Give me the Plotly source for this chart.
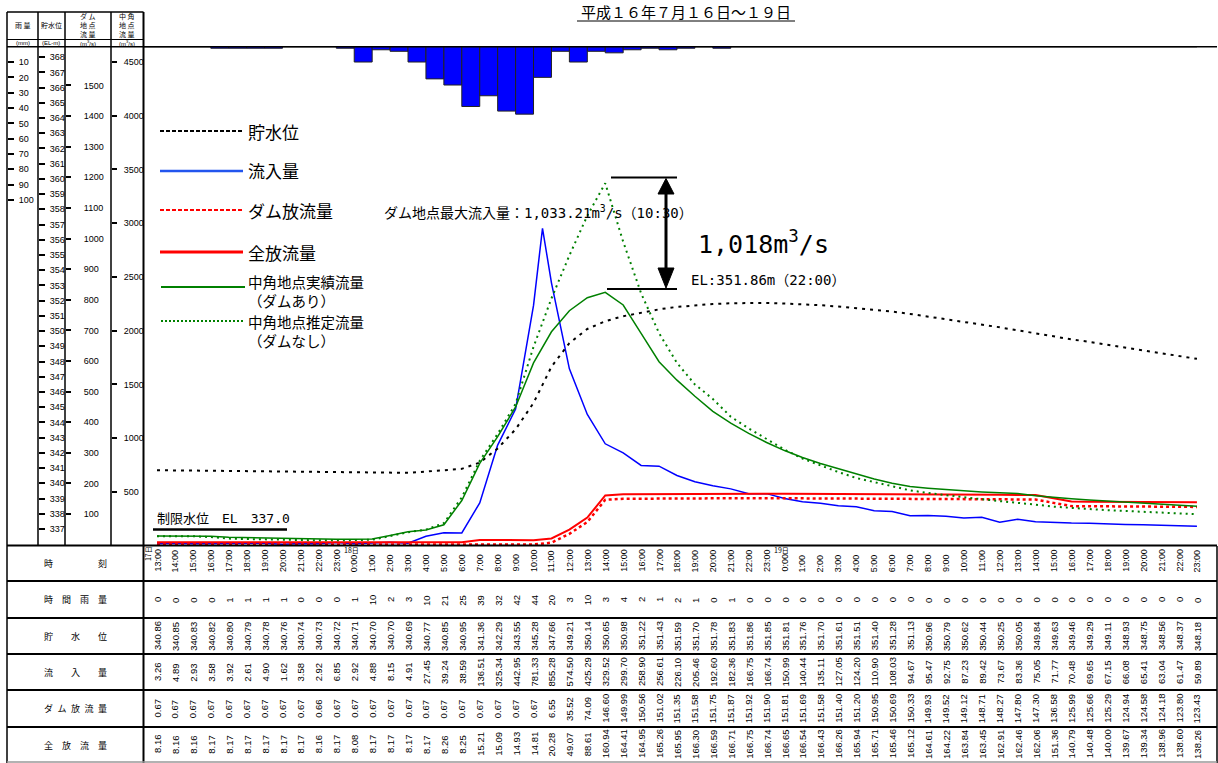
import plotly.graph_objects as go
import pandas as pd

W, H = 1218, 763

# ------------------------------------------------------------------ data
start_time = "2004-07-17 13:00"
time_labels = [f"{h}:00" for h in range(13, 24)] + [f"{h}:00" for h in range(24)] * 2
day_labels = {"2004-07-17": "17日", "2004-07-18": "18日", "2004-07-19": "19日"}

rain_mm = [0, 0, 0, 0, 1, 1, 1, 1, 0, 0, 0,
           1, 10, 2, 3, 10, 21, 25, 39, 32, 42, 44, 20, 3, 10, 3, 4, 2, 1, 2, 1, 0, 1, 0, 0,
           0, 0, 0, 0, 0, 0, 0, 0, 0, 0, 0, 0, 0, 0, 0, 0, 0, 0, 0, 0, 0, 0, 0, 0]

level_m = [340.86, 340.85, 340.83, 340.82, 340.80, 340.79, 340.78, 340.76, 340.74, 340.73, 340.72,
           340.71, 340.70, 340.70, 340.69, 340.77, 340.85, 340.95, 341.36, 342.29, 343.55, 345.28, 347.66,
           349.21, 350.14, 350.65, 350.98, 351.22, 351.43, 351.59, 351.70, 351.78, 351.83, 351.86, 351.85,
           351.81, 351.76, 351.70, 351.61, 351.51, 351.40, 351.28, 351.13, 350.96, 350.79, 350.62, 350.44,
           350.25, 350.05, 349.84, 349.63, 349.46, 349.29, 349.11, 348.93, 348.75, 348.56, 348.37, 348.18]

inflow = [3.26, 4.89, 2.93, 3.58, 3.92, 2.61, 4.90, 1.62, 3.58, 2.92, 6.85,
          2.92, 4.88, 8.15, 4.91, 27.45, 39.24, 38.59, 136.51, 325.34, 442.95, 781.33, 855.28,
          574.50, 425.29, 329.52, 299.70, 258.90, 256.61, 226.10, 205.46, 192.60, 182.36, 166.75, 166.74,
          150.99, 140.44, 135.11, 127.05, 124.20, 110.90, 108.03, 94.67, 95.47, 92.75, 87.23, 89.42,
          73.67, 83.36, 75.05, 71.77, 70.48, 69.65, 67.15, 66.08, 65.41, 63.04, 61.47, 59.89]

dam_release = [0.67, 0.67, 0.67, 0.67, 0.67, 0.67, 0.67, 0.67, 0.67, 0.66, 0.67,
               0.67, 0.67, 0.67, 0.67, 0.67, 0.67, 0.67, 0.67, 0.67, 0.67, 0.67, 6.55,
               35.52, 74.09, 146.60, 149.99, 150.56, 151.02, 151.35, 151.58, 151.75, 151.87, 151.92, 151.90,
               151.81, 151.69, 151.58, 151.40, 151.20, 150.95, 150.69, 150.33, 149.93, 149.52, 149.12, 148.71,
               148.27, 147.80, 147.30, 136.58, 125.99, 125.66, 125.29, 124.94, 124.58, 124.18, 123.80, 123.43]

total_release = [8.16, 8.16, 8.16, 8.17, 8.17, 8.17, 8.17, 8.17, 8.17, 8.16, 8.17,
                 8.08, 8.17, 8.17, 8.17, 8.17, 8.26, 8.25, 15.21, 15.09, 14.93, 14.81, 20.28,
                 49.07, 88.61, 160.94, 164.41, 164.95, 165.26, 165.95, 166.30, 166.59, 166.71, 166.75, 166.74,
                 166.65, 166.54, 166.43, 166.26, 165.94, 165.71, 165.46, 165.12, 164.61, 164.22, 163.84, 163.45,
                 162.91, 162.46, 162.06, 151.36, 140.79, 140.48, 140.00, 139.67, 139.34, 138.96, 138.60, 138.26]

naka_with_dam = [90, 90, 90, 88, 78, 74, 70, 68, 62, 60, 60,
                 60, 62, 95, 130, 146, 195, 420, 766, 1014, 1291, 1700, 1990,
                 2186, 2307, 2357, 2239, 1976, 1712, 1540, 1390, 1250, 1140, 1045, 960,
                 885, 820, 765, 715, 665, 620, 580, 550, 535, 521, 510, 500,
                 492, 485, 465, 448, 436, 424, 415, 408, 398, 388, 376, 368]

naka_without_dam = [88, 88, 88, 80, 66, 62, 58, 55, 52, 50, 50,
                    50, 55, 90, 125, 150, 210, 450, 790, 1040, 1320, 1850, 2300,
                    2700, 3070, 3372, 2828, 2348, 1978, 1700, 1500, 1365, 1200, 1091, 990,
                    894, 810, 745, 685, 630, 590, 550, 515, 490, 469, 450, 432,
                    415, 400, 382, 363, 350, 339, 330, 323, 315, 307, 300, 293]

peak_inflow_time = "2004-07-18 10:30"
peak_inflow_value = 1033.21

title_text = "平成１６年７月１６日～１９日"
row_names = ["時　　　　　刻", "時　間　雨　量", "貯　　水　　位", "流　　入　　量",
             "ダ\u2002ム\u2002放\u2002流\u2002量", "全　放　流　量"]

# ------------------------------------------------------------------ geometry (pixels)
PX_T0, PX_PER_H = 157.0, 17.93
PLOT_L, PLOT_R, PLOT_T, PLOT_B = 143.5, 1217.0, 46.7, 546.0

JP = "Noto Sans CJK JP"
MONO_JP = "DejaVu Sans Mono, Noto Sans CJK JP"
NUM = "Liberation Sans"

times = pd.date_range(start_time, periods=len(time_labels), freq="h")
t0 = times[0]


def tstr(t):
    return pd.Timestamp(t).strftime("%Y-%m-%d %H:%M:%S.%f")


x_range = [tstr(t0 + pd.Timedelta(hours=(PLOT_L - PX_T0) / PX_PER_H)),
           tstr(t0 + pd.Timedelta(hours=(PLOT_R - PX_T0) / PX_PER_H))]

# axis calibrations
DAM0, DAMK = 544.7, 0.3062
LEV_REF, LEV_PX, LEVK = 340.0, 483.3, 15.22
NAK0, NAKK = 545.7, 0.1075
RAIN0, RAINK = 46.7, 1.533

dam_range = [(DAM0 - PLOT_B) / DAMK, (DAM0 - PLOT_T) / DAMK]
lev_range = [LEV_REF - (PLOT_B - LEV_PX) / LEVK, LEV_REF + (LEV_PX - PLOT_T) / LEVK]
nak_range = [(NAK0 - PLOT_B) / NAKK, (NAK0 - PLOT_T) / NAKK]
rain_range = [(PLOT_B - RAIN0) / RAINK, (PLOT_T - RAIN0) / RAINK]

# ------------------------------------------------------------------ traces
fig = go.Figure()

fig.add_trace(go.Bar(
    x=[tstr(t - pd.Timedelta(minutes=30)) for t in times], y=rain_mm, width=3600000,
    marker=dict(color="#0000FF", line=dict(color="#222222", width=1)),
    yaxis="y4", name="時間雨量"))

fig.add_trace(go.Scatter(x=[tstr(t) for t in times], y=level_m, yaxis="y2", mode="lines",
                         line=dict(color="black", width=2, dash="3px,5px"), name="貯水位"))

inflow_t = list(times) + [pd.Timestamp(peak_inflow_time)]
inflow_v = list(inflow) + [peak_inflow_value]
order = sorted(range(len(inflow_t)), key=lambda k: inflow_t[k])
fig.add_trace(go.Scatter(x=[tstr(inflow_t[k]) for k in order], y=[inflow_v[k] for k in order],
                         yaxis="y", mode="lines", line=dict(color="#0000FF", width=1.5), name="流入量"))

fig.add_trace(go.Scatter(x=[tstr(t) for t in times], y=total_release, yaxis="y", mode="lines",
                         line=dict(color="#FF0000", width=2), name="全放流量"))
fig.add_trace(go.Scatter(x=[tstr(t) for t in times], y=dam_release, yaxis="y", mode="lines",
                         line=dict(color="#FF0000", width=2.5, dash="3px,3px"), name="ダム放流量"))

fig.add_trace(go.Scatter(x=[tstr(t) for t in times], y=naka_with_dam, yaxis="y3", mode="lines",
                         line=dict(color="#008000", width=1.5), name="中角地点実績流量"))
fig.add_trace(go.Scatter(x=[tstr(t) for t in times], y=naka_without_dam, yaxis="y3", mode="lines",
                         line=dict(color="#008000", width=2, dash="2px,4px"), name="中角地点推定流量"))

# ------------------------------------------------------------------ axes
dom_y = [1 - PLOT_B / H, 1 - PLOT_T / H]


def yax(pos_px, rng, tickvals, ticklen, standoff, size=9, overlay=True):
    d = dict(range=rng, tickmode="array", tickvals=tickvals, ticktext=[str(v) for v in tickvals],
             anchor="free", position=pos_px / W, side="right", ticks="outside", ticklen=ticklen,
             tickwidth=1.5, tickcolor="black", showgrid=False, zeroline=False, showline=False,
             tickfont=dict(family=NUM, size=size, color="black"), ticklabelstandoff=standoff,
             fixedrange=True, automargin=False)
    if overlay:
        d["overlaying"] = "y"
    else:
        d["domain"] = dom_y
    return d


fig.update_layout(
    width=W, height=H, margin=dict(l=0, r=0, t=0, b=0),
    paper_bgcolor="white", plot_bgcolor="white", showlegend=False, hovermode=False,
    xaxis=dict(domain=[PLOT_L / W, PLOT_R / W], range=x_range, type="date", visible=False,
               fixedrange=True),
    yaxis=yax(65, dam_range, list(range(100, 1501, 100)), 5, 11, overlay=False),
    yaxis2=yax(38, lev_range, list(range(337, 369)), 6, 3),
    yaxis3=yax(111, nak_range, list(range(500, 4501, 500)), 5, 5),
    yaxis4=yax(7, rain_range, list(range(10, 101, 10)), 6, 3),
)

# ------------------------------------------------------------------ frame shapes
shapes = []


def seg(x0, y0, x1, y1, width=1.5, color="black", dash="solid"):
    shapes.append(dict(type="line", xref="paper", yref="paper", x0=x0 / W, y0=1 - y0 / H,
                       x1=x1 / W, y1=1 - y1 / H, line=dict(color=color, width=width, dash=dash)))


def tri(pts, color="black"):
    path = "M " + " L ".join(f"{x / W},{1 - y / H}" for x, y in pts) + " Z"
    shapes.append(dict(type="path", xref="paper", yref="paper", path=path,
                       fillcolor=color, line=dict(color=color, width=1)))


# left header panel
seg(7, 12, 143.5, 12)
seg(7, 39.5, 143.5, 39.5, width=1)
seg(7, 46.7, PLOT_R, 46.7)
for xv in [38, 65, 111]:
    seg(xv, 12, xv, PLOT_B)
seg(7, 12, 7, H)
seg(143.5, 12, 143.5, H, width=2)
seg(PLOT_R, PLOT_B, PLOT_R, H)
# table rows
row_lines = [545.5, 581, 618, 654, 690, 727]
for yv in row_lines:
    seg(7, yv, PLOT_R, yv, width=2)
seg(7, 762, PLOT_R, 762, width=1.5, color="#999999")

# title underline
seg(577, 21, 795, 21, width=1)

# 制限水位 line
seg(153, 529.5, 287, 529.5, width=2.5)

# arrow for 1,018 m3/s
seg(611, 177.5, 677, 177.5, width=2)
seg(607, 289, 677, 289, width=2)
seg(666, 190, 666, 275, width=3)
tri([(666, 178.5), (658, 194), (674, 194)])
tri([(666, 288), (658, 268), (674, 268)])

# legend samples
seg(160, 131, 243, 131, width=2, dash="4px,2px")
seg(160, 171, 243, 171, width=2.5, color="#2255EE")
seg(160, 210, 243, 210, width=2, color="#FF0000", dash="4px,2px")
seg(160, 252, 243, 252, width=3, color="#FF0000")
seg(161, 287, 245, 287, width=2, color="#008000")
seg(161, 321, 245, 321, width=2, color="#008000", dash="2px,2px")

fig.update_layout(shapes=shapes)

# ------------------------------------------------------------------ text
ann = []


def txt(x, y, text, size=10, xanchor="center", yanchor="middle", angle=0, family=JP, xref="paper",
        align="center"):
    ann.append(dict(x=(x / W if xref == "paper" else x), y=1 - y / H, xref=xref, yref="paper",
                    text=text, showarrow=False, textangle=angle, xanchor=xanchor, yanchor=yanchor,
                    align=align, font=dict(size=size, family=family, color="black"), borderpad=0))


txt(686, 12, title_text, size=15)

# header panel labels
txt(22.5, 25.5, "雨 量", size=7)
txt(51.5, 25.5, "貯水位", size=7)
txt(88, 25.5, "ダ ム<br>地 点<br>流 量", size=7)
txt(127, 25.5, "中 角<br>地 点<br>流 量", size=7)
txt(22.5, 43, "(mm)", size=6, family=NUM)
txt(51.5, 43, "(EL-m)", size=6, family=NUM)
txt(88, 43, "(m<sup>3</sup>/s)", size=6, family=NUM)
txt(127, 43, "(m<sup>3</sup>/s)", size=6, family=NUM)

# table row names
row_centers = [563, 599.5, 636, 672, 708.5, 745]
for name, yc in zip(row_names, row_centers):
    txt(75, yc, name, size=9)

# table data
for k, t in enumerate(times):
    xs = tstr(t)
    txt(xs, 573, time_labels[k], size=9, yanchor="bottom", angle=-90, family=NUM, xref="x")
    txt(xs, 600, str(rain_mm[k]), size=9.5, angle=-90, family=NUM, xref="x")
    txt(xs, 636, f"{level_m[k]:.2f}", size=9.5, angle=-90, family=NUM, xref="x")
    txt(xs, 672, f"{inflow[k]:.2f}", size=9.5, angle=-90, family=NUM, xref="x")
    txt(xs, 708.5, f"{dam_release[k]:.2f}", size=9.5, angle=-90, family=NUM, xref="x")
    txt(xs, 744, f"{total_release[k]:.2f}", size=9.5, angle=-90, family=NUM, xref="x")
    day = t.strftime("%Y-%m-%d")
    if t.hour == 0 and day in day_labels:
        txt(tstr(t - pd.Timedelta(minutes=10)), 550, day_labels[day], size=7, family=JP, xref="x")
first_day = t0.strftime("%Y-%m-%d")
txt(tstr(t0 - pd.Timedelta(minutes=30)), 554, day_labels[first_day], size=7, angle=-90, family=JP,
    xref="x")

# legend texts
txt(247, 131, "貯水位", size=17, xanchor="left")
txt(247, 171, "流入量", size=17, xanchor="left")
txt(247, 210, "ダム放流量", size=17, xanchor="left")
txt(247, 252, "全放流量", size=17, xanchor="left")
txt(247, 291, "中角地点実績流量<br>（ダムあり）", size=14.5, xanchor="left", align="left")
txt(247, 331.5, "中角地点推定流量<br>（ダムなし）", size=14.5, xanchor="left", align="left")

# chart notes
txt(383, 212, "ダム地点最大流入量：1,033.21m<sup>3</sup>/s（10:30）", size=14, xanchor="left",
    family=MONO_JP)
txt(697, 242, "1,018m<sup>3</sup>/s", size=25, xanchor="left", family=MONO_JP)
txt(690, 280, "EL:351.86m（22:00）", size=14, xanchor="left", family=MONO_JP)
txt(156, 518, "制限水位　EL　337.0", size=13, xanchor="left", family=MONO_JP)

fig.update_layout(annotations=ann)

fig.write_html("out.html")
